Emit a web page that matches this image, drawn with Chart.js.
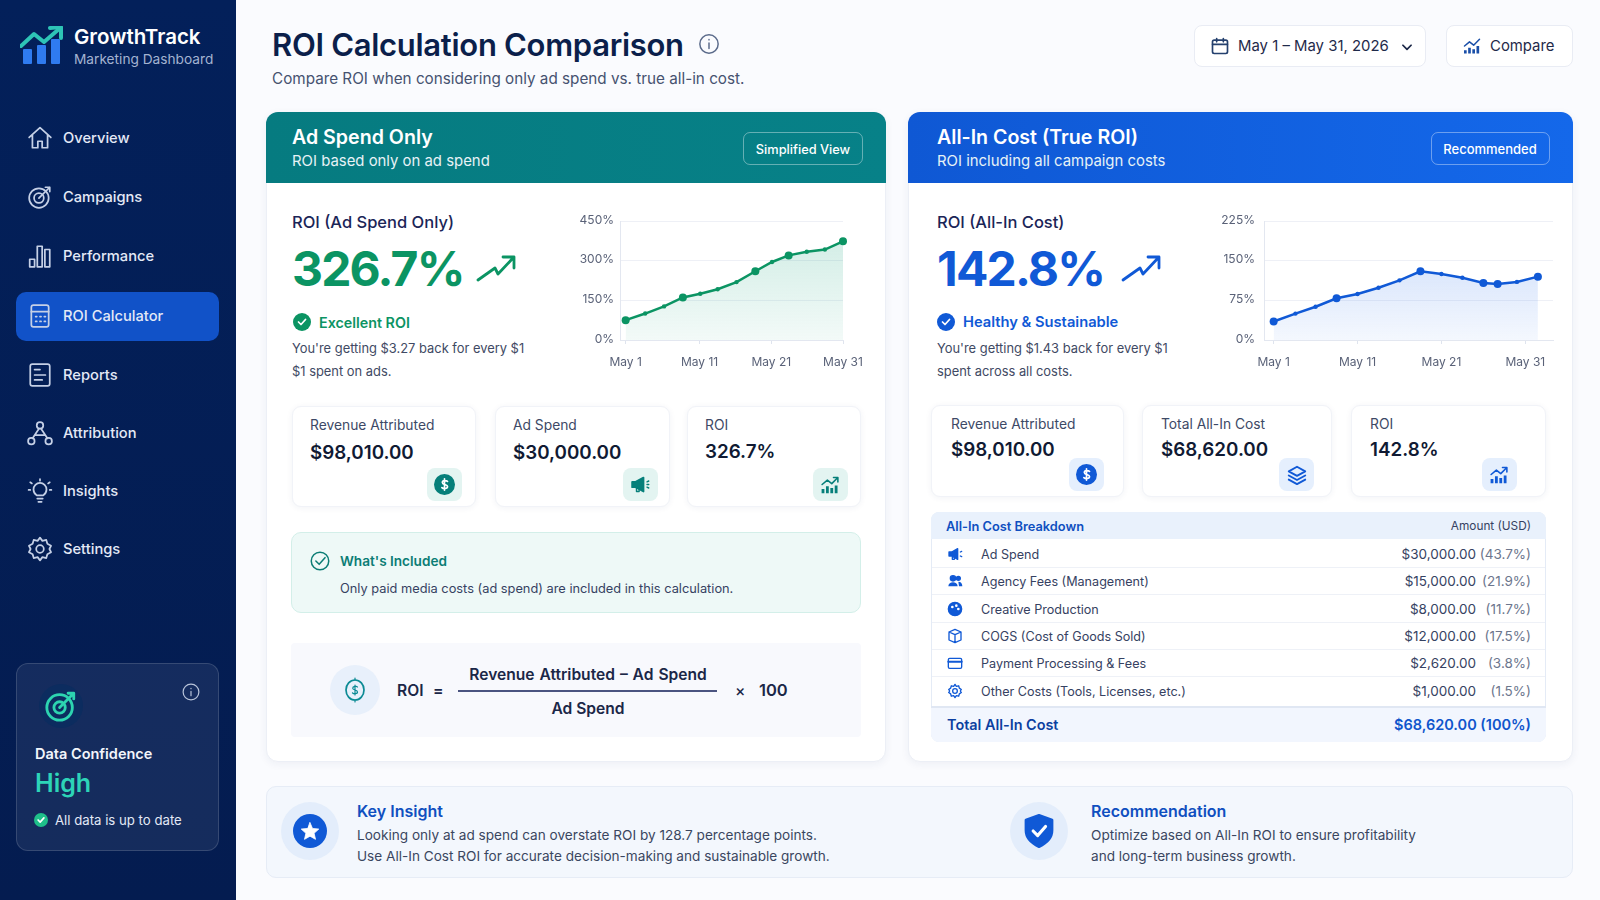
<!DOCTYPE html>
<html>
<head>
<meta charset="utf-8">
<title>ROI Calculation Comparison</title>
<script src="https://cdn.jsdelivr.net/npm/chart.js@4/dist/chart.umd.min.js"></script>
<style>
  * { box-sizing: border-box; }
  html, body { margin: 0; padding: 0; }
  body { width: 1600px; height: 900px; overflow: hidden; position: relative; background: #fafbfe; font-family: Inter, "Noto Sans", sans-serif; color: #0b1f4b; }
  .box { position: absolute; }
  .t { position: absolute; transform: translateY(-50%); white-space: nowrap; }
  .r { transform: translate(-100%, -50%); }
  .c { transform: translate(-50%, -50%); }
  svg { position: absolute; fill: none; stroke: currentColor; stroke-linecap: round; stroke-linejoin: round; }
  svg:not([stroke-width]) { stroke-width: 2; }
  canvas { position: absolute; }
  .sidebar { left: 0; top: 0; width: 236px; height: 900px; background: linear-gradient(#03205a, #041c50); }
  .nav { left: 63px; font-size: 14.7px; font-weight: 500; color: #e3e9f6; }
  .panel { background: #fff; border: 1px solid #eceff6; border-radius: 12px; box-shadow: 0 2px 8px rgba(30,50,100,.06); }
  .head { border-radius: 12px 12px 0 0; }
  .htitle { font-size: 19.6px; font-weight: 600; color: #fff; }
  .hsub { font-size: 14.9px; color: #e6f2f6; }
  .pill { border: 1px solid rgba(255,255,255,.38); border-radius: 7px; }
  .pilltext { font-size: 12.8px; font-weight: 500; color: #fff; }
  .kicker { font-size: 16.5px; font-weight: 500; color: #1b2557; }
  .big { font-size: 48px; font-weight: 700; letter-spacing: -1.8px; }
  .status { font-size: 14.3px; font-weight: 600; }
  .desc { font-size: 12.9px; color: #3f4a64; }
  .card { background: #fff; border: 1px solid #f1f3f8; border-radius: 9px; box-shadow: 0 1px 6px rgba(30,50,100,.06); }
  .clabel { font-size: 13.8px; color: #3d4966; }
  .cval { font-size: 18.8px; font-weight: 600; color: #101a33; }
  .ibox { width: 35px; height: 33px; border-radius: 8px; }
  .mint { background: #e3f4f1; color: #067f7a; }
  .sky { background: #e5effd; color: #1059d6; }
  .btn { background: #fff; border: 1px solid #e9ecf4; border-radius: 8px; }
  .btntext { font-size: 14.9px; font-weight: 400; color: #1f2a4a; }
  .row { font-size: 12.6px; color: #364262; }
  .amt { font-size: 13.5px; }
  .pct { color: #6c768d; }
  .line { height: 1px; background: #eef1f7; }
  .f { font-size: 15.6px; font-weight: 600; color: #1b2747; }
  .ititle { font-size: 16px; font-weight: 600; color: #0f4fc0; }
  .itext { font-size: 13.6px; color: #3a4660; }
</style>
</head>
<body>

<!-- sidebar -->
<div class="box sidebar"></div>
<svg style="left:20px;top:26px;color:#2ec4b6" width="44" height="40" viewBox="0 0 44 40">
  <g stroke="none" fill="#2f7bf0"><rect x="3" y="23" width="9" height="15" rx="1"/><rect x="17" y="19" width="9" height="19" rx="1"/><rect x="31" y="13" width="9" height="25" rx="1"/></g>
  <path d="M1 20 L14 8 L24 16 L39 3" stroke-width="4"/><path d="M30 2 L41 1 L41 12" stroke-width="4"/>
</svg>
<div class="t" style="left:74px;top:36px;font-size:20.5px;font-weight:600;color:#fff">GrowthTrack</div>
<div class="t" style="left:74px;top:59px;font-size:13.7px;color:#a3b3d1">Marketing Dashboard</div>
<div class="box" style="left:16px;top:292px;width:203px;height:49px;border-radius:10px;background:#1152c8"></div>
<div id="nav"></div>
<div class="box" style="left:16px;top:663px;width:203px;height:188px;border-radius:12px;border:1px solid rgba(255,255,255,.14);background:rgba(255,255,255,.07)"></div>
<div class="box" style="left:39px;top:684px;width:44px;height:44px;border-radius:50%;background:#0c2c5f"></div>
<svg style="left:44px;top:689px;color:#2dd4b0" width="34" height="34" viewBox="0 0 24 24" stroke-width="2"><circle cx="11" cy="13" r="9"/><circle cx="11" cy="13" r="4"/><path d="M11 13 L21 3 M17 3 h4 v4"/></svg>
<svg style="left:182px;top:683px;color:#b8c4da" width="18" height="18" viewBox="0 0 24 24" stroke-width="1.6"><circle cx="12" cy="12" r="10.500"/><path d="M12 11v6M12 7v.5"/></svg>
<div class="t" style="left:35px;top:753px;font-size:14.5px;font-weight:600;color:#f2f5fb">Data Confidence</div>
<div class="t" style="left:35px;top:783px;font-size:25px;font-weight:600;color:#2dd4b8">High</div>
<div class="box" style="left:34px;top:813px;width:14px;height:14px;border-radius:50%;background:#1fc08a"></div>
<svg style="left:36px;top:815px;color:#fff" width="10" height="10" viewBox="0 0 24 24" stroke-width="4"><path d="M5 12l5 5 9-10"/></svg>
<div class="t" style="left:55px;top:820px;font-size:13.2px;color:#e3e9f6">All data is up to date</div>

<!-- page header -->
<div class="t" style="left:272px;top:44px;font-size:31px;font-weight:600;color:#0b1f4b;letter-spacing:-.3px">ROI Calculation Comparison</div>
<svg style="left:698px;top:33px;color:#5a6a8a" width="22" height="22" viewBox="0 0 24 24" stroke-width="1.6"><circle cx="12" cy="12" r="10"/><path d="M12 11v6M12 7v.5"/></svg>
<div class="t" style="left:272px;top:78px;font-size:15.25px;color:#465270">Compare ROI when considering only ad spend vs. true all-in cost.</div>
<div class="box btn" style="left:1194px;top:25px;width:232px;height:42px"></div>
<svg style="left:1210px;top:36px;color:#24406e" width="20" height="20" viewBox="0 0 24 24"><rect x="3" y="5" width="18" height="16" rx="2"/><path d="M3 10h18M8 3v4M16 3v4"/></svg>
<div class="t btntext" style="left:1238px;top:46px">May 1 – May 31, 2026</div>
<svg style="left:1400px;top:40px;color:#1b2747" width="14" height="14" viewBox="0 0 24 24" stroke-width="3"><path d="M5 9l7 7 7-7"/></svg>
<div class="box btn" style="left:1446px;top:25px;width:127px;height:42px"></div>
<svg style="left:1462px;top:36px;color:#1a4fa8" width="20" height="20" viewBox="0 0 24 24"><path d="M3 12l6-5 5 4 7-7" stroke-width="1.8"/><path d="M4 21v-4M9 21v-7M14 21v-5M19 21v-9" stroke-width="3.200" stroke-linecap="butt"/></svg>
<div class="t btntext" style="left:1490px;top:46px">Compare</div>

<!-- left panel -->
<div class="box panel" style="left:266px;top:112px;width:620px;height:650px"></div>
<div class="box head" style="left:266px;top:112px;width:620px;height:71px;background:linear-gradient(90deg,#067b80,#078188)"></div>
<div class="t htitle" style="left:292px;top:137px">Ad Spend Only</div>
<div class="t hsub" style="left:292px;top:161px">ROI based only on ad spend</div>
<div class="box pill" style="left:743px;top:132px;width:120px;height:33px"></div>
<div class="t c pilltext" style="left:803px;top:149px">Simplified View</div>
<div class="t kicker" style="left:292px;top:222px">ROI (Ad Spend Only)</div>
<div class="t big" style="left:292px;top:268px;color:#0b9463">326.7%</div>
<svg style="left:476px;top:252px;color:#0b9463" width="42" height="34" viewBox="0 0 42 34" stroke-width="2.800"><path d="M2 28 L19 16 L22 22 L38 5M27 5 h11 v11"/></svg>
<div class="box" style="left:293px;top:313px;width:18px;height:18px;border-radius:50%;background:#0b9463"></div>
<svg style="left:296px;top:316px;color:#fff" width="12" height="12" viewBox="0 0 24 24" stroke-width="3.5"><path d="M5 12l5 5 9-10"/></svg>
<div class="t status" style="left:319px;top:322px;color:#0b9463">Excellent ROI</div>
<div class="t desc" style="left:292px;top:348px">You're getting $3.27 back for every $1</div>
<div class="t desc" style="left:292px;top:371px">$1 spent on ads.</div>
<canvas id="adChart" width="320" height="175" style="left:570px;top:205px;width:320px;height:175px"></canvas>

<div class="box card" style="left:292px;top:406px;width:184px;height:101px"></div>
<div class="t clabel" style="left:310px;top:425px">Revenue Attributed</div>
<div class="t cval" style="left:310px;top:452px">$98,010.00</div>
<div class="box ibox mint" style="left:427px;top:468px"></div>
<svg style="left:434px;top:474px;color:#067f7a" width="21" height="21" viewBox="0 0 24 24"><circle cx="12" cy="12" r="11" fill="#067f7a"/><path d="M15.5 8.5c-1-1.2-6-1.6-6 1.3s6 1.7 6 4.6-5 2.6-6.5 1.1M12 5.5v13" stroke="#fff" stroke-width="1.9"/></svg>
<div class="box card" style="left:495px;top:406px;width:175px;height:101px"></div>
<div class="t clabel" style="left:513px;top:425px">Ad Spend</div>
<div class="t cval" style="left:513px;top:452px">$30,000.00</div>
<div class="box ibox mint" style="left:623px;top:468px"></div>
<svg style="left:629px;top:474px;color:#067f7a" width="22" height="21" viewBox="0 0 24 24"><path d="M3 9v6h4l9 5V4L7 9z" fill="#067f7a"/><path d="M8 16v4h3v-3M20 9l2-1M20 15l2 1M20 12h2" stroke-width="1.6"/></svg>
<div class="box card" style="left:687px;top:406px;width:174px;height:101px"></div>
<div class="t clabel" style="left:705px;top:425px">ROI</div>
<div class="t cval" style="left:705px;top:451px">326.7%</div>
<div class="box ibox mint" style="left:813px;top:468px"></div>
<svg style="left:819px;top:474px;color:#067f7a" width="22" height="21" viewBox="0 0 24 24"><path d="M3 12l6-5 5 4 7-7M16 4h5v5" stroke-width="1.8"/><path d="M4 22v-5M9 22v-8M14 22v-6M19 22v-9" stroke-width="3.2" stroke-linecap="butt"/></svg>

<div class="box" style="left:291px;top:532px;width:570px;height:81px;border-radius:10px;background:#eef9f7;border:1px solid #d3efe9"></div>
<svg style="left:310px;top:551px;color:#0b7d75" width="20" height="20" viewBox="0 0 24 24" stroke-width="1.8"><circle cx="12" cy="12" r="10.5"/><path d="M7 12l4 4 7-8"/></svg>
<div class="t" style="left:340px;top:561px;font-size:13.6px;font-weight:600;color:#0b7d75">What's Included</div>
<div class="t" style="left:340px;top:588px;font-size:12.8px;color:#364262">Only paid media costs (ad spend) are included in this calculation.</div>

<div class="box" style="left:291px;top:643px;width:570px;height:94px;background:#f8f9fd;border-radius:4px"></div>
<div class="box" style="left:330px;top:665px;width:50px;height:50px;border-radius:50%;background:#e8f0fb"></div>
<svg style="left:343px;top:676px;color:#0b8a94" width="24" height="28" viewBox="0 0 24 28" stroke-width="1.7"><ellipse cx="12" cy="14" rx="9" ry="10"/><path d="M12 2v2M12 24v2M14.5 11c-.7-1-4.8-1-4.8 1.2s4.800 1.500 4.800 3.800-4.200 2-5 .8M12 9v10" stroke-width="1.2"/></svg>
<div class="t f" style="left:397px;top:690px">ROI</div>
<div class="t f" style="left:433px;top:690px">=</div>
<div class="t c f" style="left:588px;top:674px;word-spacing:1px">Revenue Attributed – Ad Spend</div>
<div class="box" style="left:458px;top:690px;width:259px;height:2px;background:#4b5480"></div>
<div class="t c f" style="left:588px;top:708px">Ad Spend</div>
<div class="t f" style="left:735px;top:690px;font-weight:500">×</div>
<div class="t f" style="left:759px;top:690px;font-size:16.500px">100</div>

<!-- right panel -->
<div class="box panel" style="left:908px;top:112px;width:665px;height:650px"></div>
<div class="box head" style="left:908px;top:112px;width:665px;height:71px;background:linear-gradient(90deg,#0f58d4,#1468ea)"></div>
<div class="t htitle" style="left:937px;top:137px">All-In Cost (True ROI)</div>
<div class="t hsub" style="left:937px;top:161px">ROI including all campaign costs</div>
<div class="box pill" style="left:1431px;top:132px;width:119px;height:33px"></div>
<div class="t c pilltext" style="left:1490px;top:149px;font-size:13px">Recommended</div>
<div class="t kicker" style="left:937px;top:222px">ROI (All-In Cost)</div>
<div class="t big" style="left:937px;top:268px;color:#1059d6">142.8%</div>
<svg style="left:1121px;top:252px;color:#1059d6" width="42" height="34" viewBox="0 0 42 34" stroke-width="2.800"><path d="M2 28 L19 16 L22 22 L38 5M27 5 h11 v11"/></svg>
<div class="box" style="left:937px;top:313px;width:18px;height:18px;border-radius:50%;background:#1059d6"></div>
<svg style="left:940px;top:316px;color:#fff" width="12" height="12" viewBox="0 0 24 24" stroke-width="3.5"><path d="M5 12l5 5 9-10"/></svg>
<div class="t status" style="left:963px;top:322px;color:#1059d6;font-size:14.7px">Healthy &amp; Sustainable</div>
<div class="t desc" style="left:937px;top:348px">You're getting $1.43 back for every $1</div>
<div class="t desc" style="left:937px;top:371px">spent across all costs.</div>
<canvas id="allInChart" width="360" height="175" style="left:1214px;top:205px;width:360px;height:175px"></canvas>

<div class="box card" style="left:931px;top:405px;width:193px;height:92px"></div>
<div class="t clabel" style="left:951px;top:424px">Revenue Attributed</div>
<div class="t cval" style="left:951px;top:449px">$98,010.00</div>
<div class="box ibox sky" style="left:1069px;top:458px"></div>
<svg style="left:1076px;top:464px;color:#1059d6" width="21" height="21" viewBox="0 0 24 24"><circle cx="12" cy="12" r="11" fill="#1059d6"/><path d="M15.5 8.5c-1-1.2-6-1.6-6 1.3s6 1.7 6 4.6-5 2.6-6.5 1.1M12 5.5v13" stroke="#fff" stroke-width="1.9"/></svg>
<div class="box card" style="left:1142px;top:405px;width:190px;height:92px"></div>
<div class="t clabel" style="left:1161px;top:424px">Total All-In Cost</div>
<div class="t cval" style="left:1161px;top:449px">$68,620.00</div>
<div class="box ibox sky" style="left:1279px;top:458px"></div>
<svg style="left:1286px;top:464px;color:#1059d6" width="22" height="22" viewBox="0 0 24 24"><path d="M12 3l9 5-9 5-9-5zM3 12.5l9 5 9-5M3 17l9 5 9-5"/></svg>
<div class="box card" style="left:1351px;top:405px;width:195px;height:92px"></div>
<div class="t clabel" style="left:1370px;top:424px">ROI</div>
<div class="t cval" style="left:1370px;top:449px">142.8%</div>
<div class="box ibox sky" style="left:1482px;top:458px"></div>
<svg style="left:1488px;top:464px;color:#1059d6" width="22" height="21" viewBox="0 0 24 24"><path d="M3 12l6-5 5 4 7-7M16 4h5v5" stroke-width="1.8"/><path d="M4 22v-5M9 22v-8M14 22v-6M19 22v-9" stroke-width="3.2" stroke-linecap="butt"/></svg>

<!-- cost table -->
<div class="box" style="left:931px;top:512px;width:615px;height:230px;border:1px solid #e4ebf6;border-radius:8px;background:#fff"></div>
<div class="box" style="left:931px;top:512px;width:615px;height:27px;border-radius:8px 8px 0 0;background:#e9f1fc"></div>
<div class="t" style="left:946px;top:526px;font-size:12.8px;font-weight:600;color:#0f4fc0">All-In Cost Breakdown</div>
<div class="t r" style="left:1531px;top:526px;font-size:11.8px;color:#364262">Amount (USD)</div>
<div id="costRows"></div>
<div class="box" style="left:931px;top:706px;width:615px;height:36px;border-radius:0 0 8px 8px;background:#f2f6fe;border-top:2px solid #e0e7f3"></div>
<div class="t" style="left:947px;top:724px;font-size:14.4px;font-weight:600;color:#0c3fa0">Total All-In Cost</div>
<div class="t r" style="left:1531px;top:724px;font-size:14.5px;font-weight:600;color:#0f55cc">$68,620.00 (100%)</div>

<!-- bottom insight -->
<div class="box" style="left:266px;top:786px;width:1307px;height:92px;border-radius:10px;background:#f3f7fd;border:1px solid #e6ecf6"></div>
<div class="box" style="left:281px;top:802px;width:58px;height:58px;border-radius:50%;background:#e3edfb"></div>
<div class="box" style="left:293px;top:814px;width:34px;height:34px;border-radius:50%;background:#1059d6"></div>
<svg style="left:300px;top:821px;color:#fff" width="20" height="20" viewBox="0 0 24 24" stroke-width="1"><path d="M12 2l3 7 7.500.7-5.600 5 1.700 7.300L12 18.200 5.400 22l1.700-7.300-5.600-5L9 9z" fill="#fff"/></svg>
<div class="t ititle" style="left:357px;top:811px">Key Insight</div>
<div class="t itext" style="left:357px;top:835px">Looking only at ad spend can overstate ROI by 128.7 percentage points.</div>
<div class="t itext" style="left:357px;top:856px">Use All-In Cost ROI for accurate decision-making and sustainable growth.</div>
<div class="box" style="left:1010px;top:802px;width:58px;height:58px;border-radius:50%;background:#e3edfb"></div>
<svg style="left:1023px;top:814px;color:#1059d6" width="32" height="34" viewBox="0 0 24 26"><path d="M12 1l10 3.500v8c0 6-4.500 10-10 12.500C6.500 22.500 2 18.500 2 12.500v-8z" fill="#1059d6"/><path d="M7.500 13l3.500 3.500 6-7" stroke="#fff" stroke-width="2.400"/></svg>
<div class="t ititle" style="left:1091px;top:811px">Recommendation</div>
<div class="t itext" style="left:1091px;top:835px">Optimize based on All-In ROI to ensure profitability</div>
<div class="t itext" style="left:1091px;top:856px">and long-term business growth.</div>

<script>
// ROI (Ad Spend Only) line
const adDays = [1, 3.7, 6.3, 8.9, 11.3, 13.7, 16.3, 18.9, 21.2, 23.5, 26, 28.5, 31];
const adRoi = [75, 100, 127, 161, 175, 192, 219, 260, 295, 320, 334, 342, 373];
const adBigPoints = [0, 3, 7, 9, 12];
const adXTicks = [1, 11.2, 21.1, 31];
const adYTicks = [0, 150, 300, 450];

// ROI (All-In Cost) line
const allInDays = [1, 3.6, 6, 8.5, 11, 13.5, 16, 18.5, 21, 23.5, 26, 27.7, 30, 32.5];
const allInRoi = [35, 50, 63, 79, 87, 99, 113, 130, 125, 118, 108, 106, 110, 120];
const allInBigPoints = [0, 3, 7, 10, 11, 13];
const allInXTicks = [1, 11, 21, 31];
const allInYTicks = [0, 75, 150, 225];

const xTickLabels = ['May 1', 'May 11', 'May 21', 'May 31'];

// All-In Cost breakdown table
const costNames = ['Ad Spend', 'Agency Fees (Management)', 'Creative Production', 'COGS (Cost of Goods Sold)', 'Payment Processing & Fees', 'Other Costs (Tools, Licenses, etc.)'];
const costAmounts = ['$30,000.00', '$15,000.00', '$8,000.00', '$12,000.00', '$2,620.00', '$1,000.00'];
const costShares = ['(43.7%)', '(21.9%)', '(11.7%)', '(17.5%)', '(3.8%)', '(1.5%)'];

const navNames = ['Overview', 'Campaigns', 'Performance', 'ROI Calculator', 'Reports', 'Attribution', 'Insights', 'Settings'];
const navTops = [138, 197, 256, 316, 375, 433, 491, 549];
const navIcons = [
  '<path d="M2 11.500l10-9 10 9M5 9v12h5v-6h4v6h5V9"/>',
  '<circle cx="11" cy="13" r="9"/><circle cx="11" cy="13" r="4.500"/><path d="M11 13L21 3M17 3h4v4"/>',
  '<rect x="2.500" y="15" width="4.500" height="7"/><rect x="9.500" y="3" width="4.500" height="19"/><rect x="16.500" y="6" width="4.500" height="16"/>',
  '<rect x="4" y="2" width="16" height="20" rx="2"/><path d="M4 8h16M8 12.500h1M12 12.500h1M16 12.500h1M8 17h1M12 17h1M16 17h1"/>',
  '<rect x="3" y="2" width="18" height="20" rx="2"/><path d="M7 7h5M7 12h10M7 16.500h7"/>',
  '<circle cx="12" cy="5" r="3"/><path d="M11 8L5 17M13 8l6 9M7.500 14h9"/><circle cx="4" cy="19.500" r="3"/><circle cx="20" cy="19.500" r="3"/>',
  '<path d="M9.500 19h5M10.500 22h3M9 16c-2-1.500-3-3.500-3-5.500a6 6 0 0 1 12 0c0 2-1 4-3 5.500zM12 1v1.500M3 4l1.500 1M21 4l-1.500 1M1.500 11H3M21 11h1.500"/>',
  '<circle cx="12" cy="12" r="3.500"/><path d="M12 1.500l2.200 3 3.600-.9 1 3.600 3.400 1.800-1.500 3 1.500 3-3.400 1.800-1 3.600-3.600-.9-2.200 3-2.200-3-3.600.9-1-3.600-3.400-1.800 1.500-3-1.500-3 3.400-1.800 1-3.600 3.600.9z"/>'
];

const costIcons = [
  '<path d="M3 9v6h4l9 5V4L7 9z" fill="#1059d6"/><path d="M8 16v4h3v-3M20 9l2-1M20 15l2 1"/>',
  '<circle cx="9" cy="8" r="4" fill="#1059d6"/><circle cx="17" cy="8" r="3" fill="#1059d6"/><path d="M2 20c0-8 14-8 14 0zM17 13c4 0 6 3 6 7h-5" fill="#1059d6" stroke="none"/>',
  '<circle cx="12" cy="12" r="10" fill="#1059d6"/><circle cx="8" cy="9" r="1" stroke="#fff"/><circle cx="14" cy="7" r="1" stroke="#fff"/><circle cx="17" cy="12" r="1" stroke="#fff"/>',
  '<path d="M12 2l9 4v12l-9 4-9-4V6zM3 6l9 4 9-4M12 10v12"/>',
  '<rect x="2" y="5" width="20" height="15" rx="2"/><path d="M2 10h20" stroke-width="3"/>',
  '<circle cx="12" cy="12" r="3.500"/><path d="M12 2l2 3 3.500-.8 1 3.500 3 2-1.500 2.300 1.500 2.300-3 2-1 3.500-3.500-.8-2 3-2-3-3.500.8-1-3.500-3-2 1.500-2.300L2.500 9.700l3-2 1-3.500L10 5z"/>'
];
const rowTops = [554, 581, 609, 636, 663, 691];

let navHtml = '';
navNames.forEach((name, i) => {
  navHtml += '<svg style="left:27px;top:' + (navTops[i] - 13) + 'px;color:#c5d0e6" width="26" height="26" viewBox="0 0 24 24" stroke-width="1.6">' + navIcons[i] + '</svg>';
  navHtml += '<div class="t nav" style="top:' + navTops[i] + 'px">' + name + '</div>';
});
document.getElementById('nav').innerHTML = navHtml;

let rowHtml = '';
costNames.forEach((name, i) => {
  const top = rowTops[i];
  rowHtml += '<svg style="left:947px;top:' + (top - 8) + 'px;color:#1059d6" width="16" height="16" viewBox="0 0 24 24">' + costIcons[i] + '</svg>';
  rowHtml += '<div class="t row" style="left:981px;top:' + top + 'px">' + name.replace('&', '&amp;') + '</div>';
  rowHtml += '<div class="t r row amt" style="left:1476px;top:' + top + 'px">' + costAmounts[i] + '</div>';
  rowHtml += '<div class="t r row amt pct" style="left:1531px;top:' + top + 'px">' + costShares[i] + '</div>';
  if (i < costNames.length - 1) {
    rowHtml += '<div class="box line" style="left:932px;width:613px;top:' + (top + 13) + 'px"></div>';
  }
});
document.getElementById('costRows').innerHTML = rowHtml;

function drawRoiChart(id, days, roi, bigPoints, xTicks, yTicks, xMin, xMax, rightPad, yPad, color, fillTop, fillBottom) {
  new Chart(document.getElementById(id).getContext('2d'), {
    type: 'line',
    data: {
      datasets: [{
        data: days.map((d, i) => ({ x: d, y: roi[i] })),
        borderColor: color,
        borderWidth: 2.5,
        tension: 0,
        clip: false,
        pointBackgroundColor: color,
        pointBorderColor: color,
        pointBorderWidth: 0,
        pointRadius: roi.map((v, i) => bigPoints.includes(i) ? 4 : 2.2),
        fill: 'origin',
        backgroundColor: (ctx) => {
          const area = ctx.chart.chartArea;
          if (!area) return fillBottom;
          const g = ctx.chart.ctx.createLinearGradient(0, area.top + 30, 0, area.bottom);
          g.addColorStop(0, fillTop);
          g.addColorStop(1, fillBottom);
          return g;
        }
      }]
    },
    options: {
      responsive: false,
      animation: false,
      layout: { padding: { top: 16, right: rightPad } },
      plugins: { legend: { display: false }, tooltip: { enabled: false } },
      scales: {
        x: {
          type: 'linear',
          min: xMin,
          max: xMax,
          afterBuildTicks: (s) => { s.ticks = xTicks.map(v => ({ value: v })); },
          afterFit: (s) => { s.height = 40; },
          grid: { drawOnChartArea: false, tickLength: 4, color: '#dfe4ee' },
          border: { color: '#e3e7f0' },
          ticks: { autoSkip: false, maxRotation: 0, padding: 11, color: '#5a6278', font: { family: 'Inter', size: 12 }, callback: (v) => xTickLabels[xTicks.indexOf(v)] }
        },
        y: {
          min: 0,
          max: yTicks[yTicks.length - 1],
          afterBuildTicks: (s) => { s.ticks = yTicks.map(v => ({ value: v })); },
          afterFit: (s) => { s.width = 50; },
          grid: { drawTicks: false, color: '#eef0f6' },
          border: { color: '#e3e7f0' },
          ticks: { padding: yPad, labelOffset: -1, color: '#5a6278', font: { family: 'Inter', size: 12 }, callback: (v) => v + '%' }
        }
      }
    }
  });
}

drawRoiChart('adChart', adDays, adRoi, adBigPoints, adXTicks, adYTicks, 0.22, 31, 47, 6, '#0b9463', 'rgba(16,160,120,0.17)', 'rgba(16,160,120,0.05)');
drawRoiChart('allInChart', allInDays, allInRoi, allInBigPoints, allInXTicks, allInYTicks, -0.15, 34.3, 21, 9, '#1059d6', 'rgba(40,110,235,0.2)', 'rgba(40,110,235,0.05)');
</script>
</body>
</html>
